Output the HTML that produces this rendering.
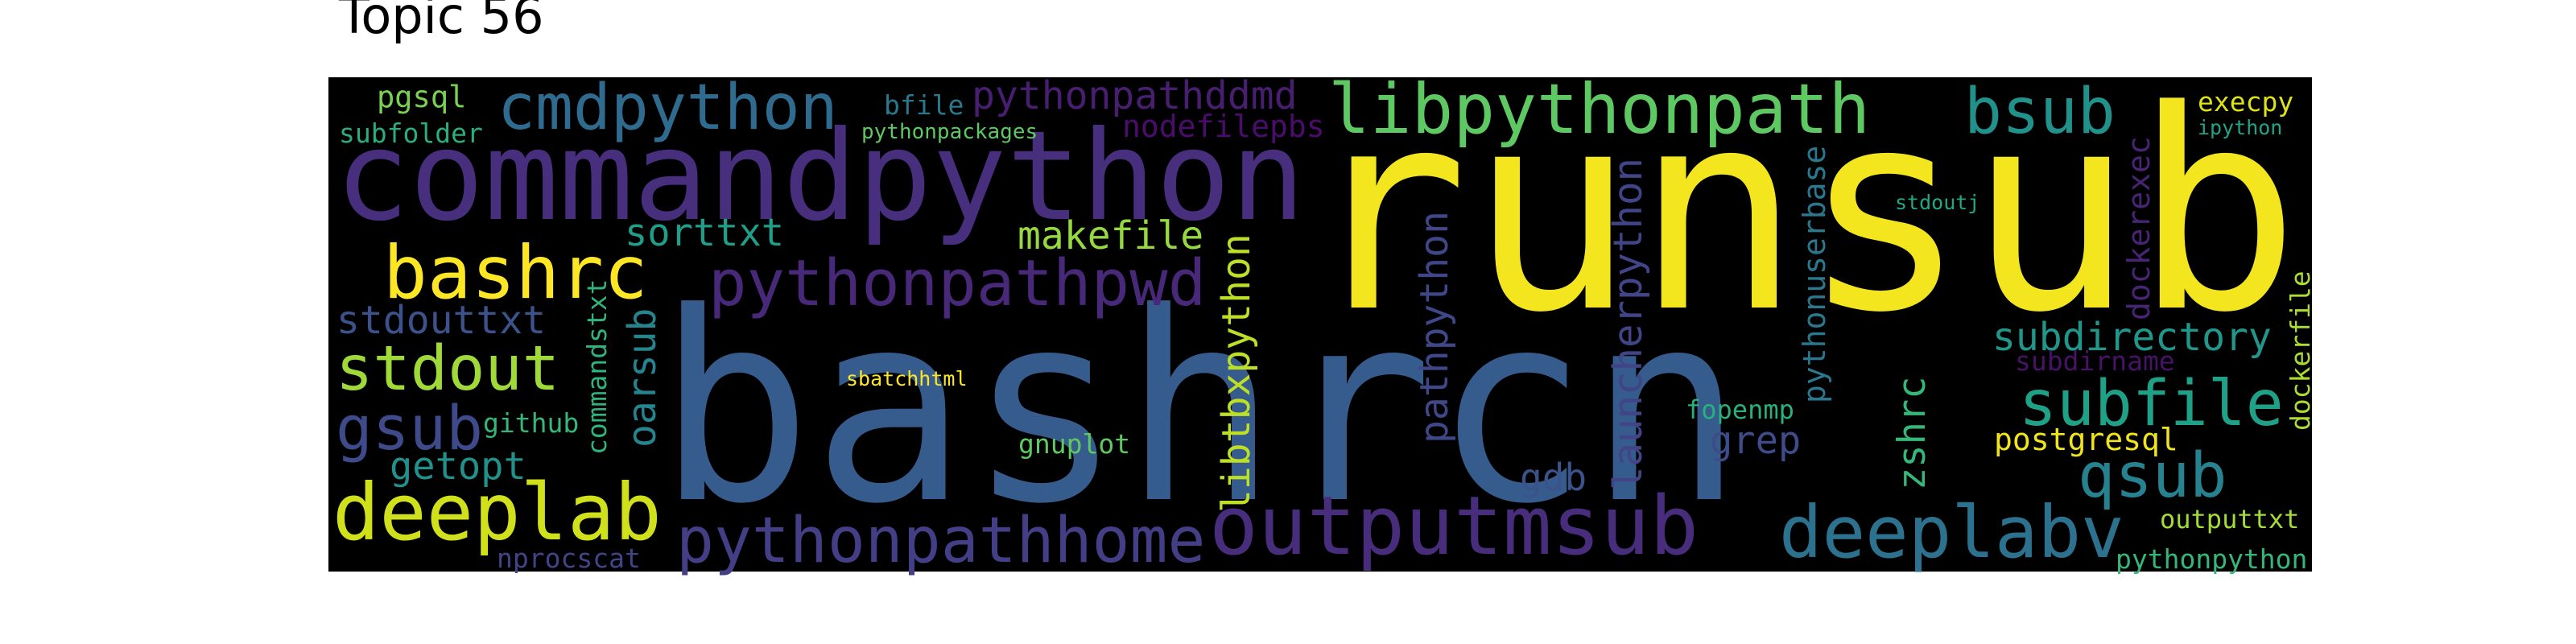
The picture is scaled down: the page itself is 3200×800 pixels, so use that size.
<!DOCTYPE html>
<html><head><meta charset="utf-8"><style>
html,body{margin:0;padding:0;background:#fff;width:3200px;height:800px;overflow:hidden}
svg{position:absolute;left:0;top:0}
</style></head><body>
<svg id="chart" width="3200" height="800" xmlns="http://www.w3.org/2000/svg">
<text x="421" y="41" font-family="DejaVu Sans, Liberation Sans, sans-serif" font-size="62" fill="#000">Topic 56</text>
<rect x="408" y="96" width="2464" height="614" fill="#000"/>
<g id="words" font-family="DejaVu Sans Mono, Liberation Mono, monospace"></g>
</svg>
<script>
const words = ["commandpython","bashrcn","runsub","cmdpython","pgsql","subfolder","bfile","pythonpackages","pythonpathddmd","nodefilepbs","libpythonpath","bsub","execpy","ipython","stdoutj","bashrc","sorttxt","makefile","pythonpathpwd","stdouttxt","stdout","gsub","github","getopt","deeplab","nprocscat","pythonpathhome","sbatchhtml","gnuplot","outputmsub","fopenmp","grep","gdb","subdirectory","subdirname","subfile","postgresql","qsub","deeplabv","outputtxt","pythonpython","commandstxt","oarsub","libtbxpython","pathpython","launcherpython","pythonuserbase","dockerexec","dockerfile","zshrc"];
const sizes = [154,325,343,78,37,33,33,26,48,38,86,78,33,25,25,91,47,48,79,48,77,76,33,47,97,33,78,25,33,101,32,47,46,48,33,78,38,77,89,32,33,33,48,48,48,49,38,38,33,47];
const colors = ["#472f7d","#365c8d","#f4e61e","#2f6b8e","#7ad151","#29af7f","#2a788e","#5ec962","#481f70","#4b0c6b","#5ec962","#21918c","#dde318","#20a486","#22a884","#fde725","#1f9e89","#95d840","#482878","#3b528b","#a0da39","#3e4a89","#35b779","#21918c","#d0e11c","#414487","#433e85","#fde725","#5ec962","#472d7b","#2ab07f","#3e4c8a","#3b528b","#1f988b","#471365","#1fa187","#f0e51d","#26828e","#2c728e","#a5db36","#35b779","#2fb47c","#25858e","#bddf26","#3f4788","#414487","#2a788e","#482475","#addc30","#35b779"];
const vertical = [0,0,0,0,0,0,0,0,0,0,0,0,0,0,0,0,0,0,0,0,0,0,0,0,0,0,0,0,0,0,0,0,0,0,0,0,0,0,0,0,0,1,1,1,1,1,1,1,1,1];
const layout = [[416,272],[816,620],[1618,382],[618,160],[468,133],[421,177],[1098,142],[1070,172],[1207,135],[1394,170],[1650,165],[2440,165],[2730,138],[2730,167],[2354,260],[476,370],[776,305],[1264,309],[880,379],[418,414],[417,484],[417,558],[600,537],[484,595],[413,670],[617,705],[840,698],[1051,479],[1265,563],[1502,688],[2094,520],[2124,563],[1888,609],[2475,435],[2503,460],[2508,528],[2477,559],[2581,617],[2210,692],[2683,656],[2628,706],[753,565],[814,556],[1552,637],[1798,551],[2039,609],[2267,501],[2670,398],[2869,535],[2391,609]];
const g = document.getElementById('words');
for (let i = 0; i < words.length; i++) {
  const t = document.createElementNS('http://www.w3.org/2000/svg','text');
  t.textContent = words[i];
  t.setAttribute('font-size', sizes[i]);
  t.setAttribute('fill', colors[i]);
  if (words[i] === 'bashrcn') {
    t.setAttribute('textLength', 1350);
    t.setAttribute('lengthAdjust', 'spacingAndGlyphs');
  }
  const [x, y] = layout[i];
  if (vertical[i]) {
    t.setAttribute('transform', `translate(${x},${y}) rotate(-90)`);
  } else {
    t.setAttribute('x', x);
    t.setAttribute('y', y);
  }
  
  
  g.appendChild(t);
}
</script>
</body></html>
